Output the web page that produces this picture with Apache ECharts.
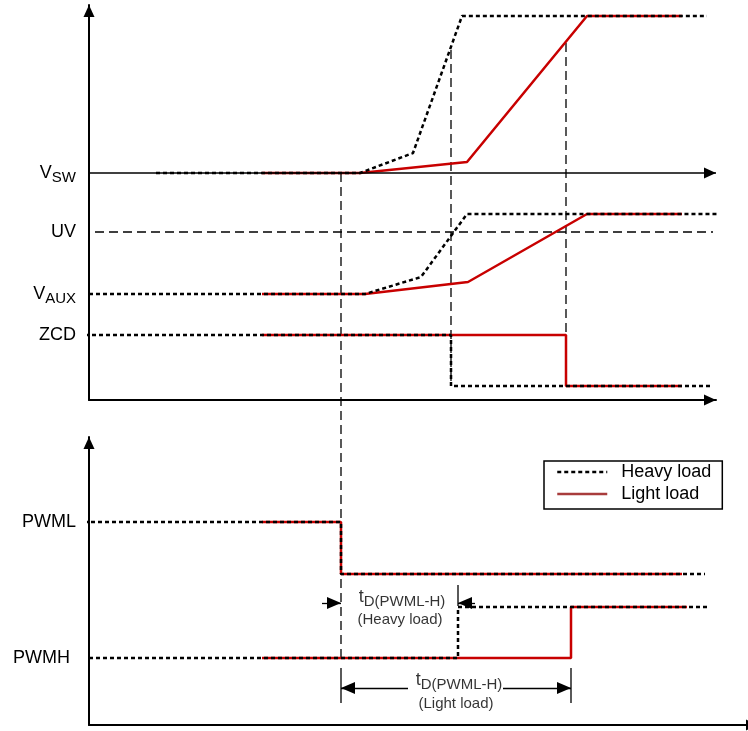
<!DOCTYPE html>
<html><head><meta charset="utf-8">
<script src="https://cdn.jsdelivr.net/npm/echarts@6/dist/echarts.min.js"></script>
<style>html,body{margin:0;padding:0;background:#fff}#c{width:748px;height:731px}</style>
</head><body><div id="c"></div>
<script>
// ---- upper panel (time units shared, level units of upper panel) ----
const vswHeavyT = [67, 271, 324, 373, 618];
const vswHeavyV = [227, 227, 247, 384, 384];
const vswLightT = [173, 271, 378, 498, 593];
const vswLightV = [227, 227, 238, 384, 384];
const vauxHeavyT = [0, 276, 332, 378, 629];
const vauxHeavyV = [106, 106, 123, 186, 186];
const vauxLightT = [173, 276, 379, 498, 593];
const vauxLightV = [106, 106, 118, 186, 186];
const zcdHeavyT = [-4, 362, 362, 621];
const zcdHeavyV = [65, 65, 14, 14];
const zcdLightT = [173, 477, 477, 593];
const zcdLightV = [65, 65, 14, 14];
const uvT = [6, 624];
const uvV = [168, 168];
const vswAxisT = [0, 627];
const vswAxisV = [227, 227];
const markHeavyT = [362, 362];
const markHeavyV = [350, 14];
const markLightT = [477, 477];
const markLightV = [357, 14];
const upperTickValues = [227, 168, 106, 65];
const upperTickLabels = ['{m|V}{s|SW}', '{m|UV}', '{m|V}{s|AUX}', '{m|ZCD}'];

// ---- lower panel ----
const pwmlHeavyT = [-5, 252, 252, 616];
const pwmlHeavyV = [203, 203, 151, 151];
const pwmlLightT = [173, 252, 252, 593];
const pwmlLightV = [203, 203, 151, 151];
const pwmhHeavyT = [-7, 369, 369, 620];
const pwmhHeavyV = [67, 67, 118, 118];
const pwmhLightT = [173, 482, 482, 598];
const pwmhLightV = [67, 67, 118, 118];
const markStartT = [252, 252];
const markStartV = [552, 62];
const lowerTickValues = [203, 67];
const lowerTickLabels = ['{m|PWML}', '{p|PWMH}'];
// annotation geometry (lower panel units)
const tickHeavyT = [369, 369];
const tickHeavyV = [140, 119];
const tickL1T = [252, 252];
const tickL2T = [482, 482];
const tickLightV = [57, 22];
const arrowHeavyR = [[233, 122], [252, 122]];
const arrowHeavyL = [[386, 122], [369, 122]];
const arrowLightL = [[319, 37], [252, 37]];
const arrowLightR = [[414, 37], [482, 37]];
const annoT = [313, 311, 370, 367];
const annoV = [128, 105, 45, 21];
const annoText = ['{t|t}{s|D(PWML-H)}', '{n|(Heavy load)}', '{t|t}{s|D(PWML-H)}', '{n|(Light load)}'];

const FONT = "'Liberation Sans', Arial, sans-serif";
const RED = '#c80000';
const pts = (t, v) => t.map((x, i) => [x, v[i]]);

const heavyStyle = { color: '#000', width: 2.5, type: [4, 3] };
const lightStyle = { color: RED, width: 2.5, type: 'solid' };
const dashStyle = { color: '#000', width: 1.3, type: [9, 5] };
const thinStyle = { color: '#000', width: 1.3, type: 'solid' };

function line(name, data, idx, style, z) {
  return { name, type: 'line', data, xAxisIndex: idx, yAxisIndex: idx, symbol: 'none',
    clip: false, lineStyle: style, itemStyle: { color: style.color }, z: z, silent: true, animation: false };
}
function arrow(name, seg, idx, size, width) {
  const sz = size || [12, 14];
  return { name, type: 'line', data: [], xAxisIndex: idx, yAxisIndex: idx, symbol: 'none', silent: true,
    markLine: { silent: true, animation: false, symbol: ['none', 'triangle'], symbolSize: sz,
      symbolOffset: [0, [0, sz[1] / 2]],
      label: { show: false }, lineStyle: { color: '#000', width: width || 1.3, type: 'solid' },
      data: [[{ coord: seg[0] }, { coord: seg[1] }]] } };
}

const axisBase = (max) => ({
  type: 'value', min: 0, max: max, splitLine: { show: false }, axisTick: { show: false },
  axisLine: { show: true, onZero: false, symbol: ['none', 'triangle'], symbolSize: [11, 12],
    symbolOffset: [0, -6], lineStyle: { color: '#000', width: 2 } }
});

const richLabels = {
  m: { fontSize: 18, fontFamily: FONT, color: '#000' },
  s: { fontSize: 15, fontFamily: FONT, color: '#000', padding: [9, 0, 0, 0] },
  p: { fontSize: 18, fontFamily: FONT, color: '#000', padding: [0, 6, 0, 0] }
};

const xa1 = axisBase(627); xa1.axisLabel = { show: false };
const xa2 = axisBase(659); xa2.axisLabel = { show: false }; xa2.gridIndex = 1;
xa2.axisLine.symbolOffset = [0, 4];
const ya1 = axisBase(395);
ya1.axisLabel = { show: true, customValues: upperTickValues, margin: 13,
  formatter: v => upperTickLabels[upperTickValues.indexOf(v)] || '', rich: richLabels };
const ya2 = axisBase(288); ya2.gridIndex = 1;
ya2.axisLabel = { show: true, customValues: lowerTickValues, margin: 13,
  formatter: v => lowerTickLabels[lowerTickValues.indexOf(v)] || '', rich: richLabels };

const series = [
  // axis-like reference lines and markers
  arrow('vswAxis', pts(vswAxisT, vswAxisV), 0, [11, 12], 1.6),
  line('uv', pts(uvT, uvV), 0, dashStyle, 1),
  line('m1', pts(markHeavyT, markHeavyV), 0, dashStyle, 1),
  line('m2', pts(markLightT, markLightV), 0, dashStyle, 1),
  line('m0', pts(markStartT, markStartV), 1, dashStyle, 1),
  line('tk1', pts(tickHeavyT, tickHeavyV), 1, thinStyle, 1),
  line('tk2', pts(tickL1T, tickLightV), 1, thinStyle, 1),
  line('tk3', pts(tickL2T, tickLightV), 1, thinStyle, 1),
  arrow('a1', arrowHeavyR, 1), arrow('a2', arrowHeavyL, 1), arrow('a3', arrowLightL, 1), arrow('a4', arrowLightR, 1),
  // light load (red) beneath
  line('Light load', pts(vswLightT, vswLightV), 0, lightStyle, 2),
  line('Light load', pts(vauxLightT, vauxLightV), 0, lightStyle, 2),
  line('Light load', pts(zcdLightT, zcdLightV), 0, lightStyle, 2),
  line('Light load', pts(pwmlLightT, pwmlLightV), 1, lightStyle, 2),
  line('Light load', pts(pwmhLightT, pwmhLightV), 1, lightStyle, 2),
  // heavy load (dotted black) on top
  line('Heavy load', pts(vswHeavyT, vswHeavyV), 0, heavyStyle, 3),
  line('Heavy load', pts(vauxHeavyT, vauxHeavyV), 0, heavyStyle, 3),
  line('Heavy load', pts(zcdHeavyT, zcdHeavyV), 0, heavyStyle, 3),
  line('Heavy load', pts(pwmlHeavyT, pwmlHeavyV), 1, heavyStyle, 3),
  line('Heavy load', pts(pwmhHeavyT, pwmhHeavyV), 1, heavyStyle, 3),
  // annotation texts
  { name: 'anno', type: 'scatter', xAxisIndex: 1, yAxisIndex: 1, symbolSize: 1, silent: true, animation: false,
    itemStyle: { color: 'transparent' }, clip: false,
    data: pts(annoT, annoV).map((p, i) => ({ value: p, label: { formatter: annoText[i] } })),
    label: { show: true, position: 'inside', rich: {
      t: { fontSize: 18, fontFamily: FONT, color: '#000' },
      s: { fontSize: 15, fontFamily: FONT, color: '#000', padding: [9, 0, 0, 0] },
      n: { fontSize: 15, fontFamily: FONT, color: '#000' } } } }
];

const chart = echarts.init(document.getElementById('c'), null, { renderer: 'canvas' });
chart.setOption({
  animation: false,
  backgroundColor: '#fff',
  textStyle: { fontFamily: FONT },
  grid: [
    { left: 89, top: 5, width: 627, height: 395 },
    { left: 89, top: 437, width: 659, height: 288 }
  ],
  xAxis: [xa1, xa2],
  yAxis: [ya1, ya2],
  legend: {
    data: [{ name: 'Heavy load', lineStyle: { width: 2.5 } },
           { name: 'Light load', lineStyle: { color: '#a83c3c', width: 2.5 } }],
    left: 544, top: 461, orient: 'vertical', selectedMode: false,
    borderColor: '#000', borderWidth: 1.5, backgroundColor: '#fff',
    padding: [2, 11, 6, 12], itemWidth: 50, itemHeight: 18, itemGap: 4,
    itemStyle: { opacity: 0 },
    textStyle: { fontSize: 18, color: '#000', fontFamily: FONT, padding: [0, 0, 0, 9] }
  },
  series: series
});
</script>
</body></html>
